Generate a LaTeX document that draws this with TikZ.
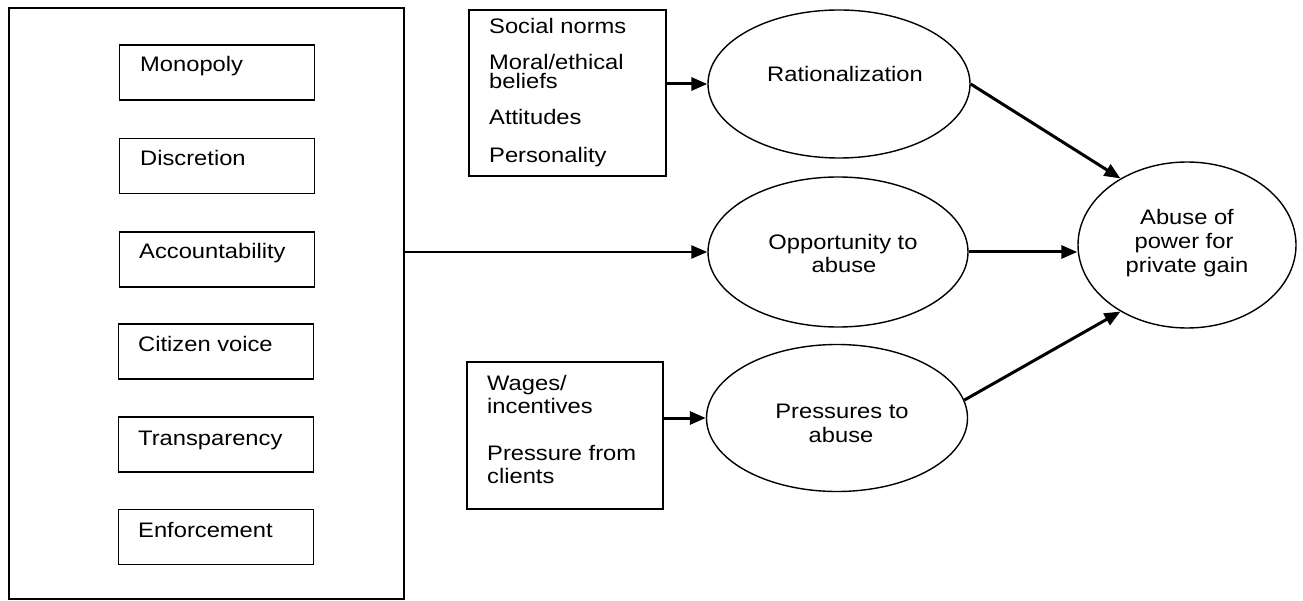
\documentclass[tikz,border=0pt]{standalone}
\usepackage{fontspec}
\setmainfont{Liberation Sans}[FakeStretch=1.13]
\usetikzlibrary{arrows.meta,shapes.geometric}
\begin{document}
\begin{tikzpicture}[x=1pt,y=-1pt,
  outerbox/.style={draw, line width=1.6pt, inner sep=0pt},
  itembox/.style={draw, line width=1.5pt, inner sep=0pt, minimum width=195pt, minimum height=55pt},
  oval/.style={draw, ellipse, line width=1.4pt, inner sep=0pt},
  lbl/.style={inner sep=0pt, anchor=base west, font=\fontsize{21pt}{24pt}\selectfont},
  clbl/.style={inner sep=0pt, anchor=base, font=\fontsize{21pt}{24pt}\selectfont},
  arr/.style={line width=3pt, -{Triangle[length=16pt,width=13pt]}},
  thinarr/.style={line width=2.4pt, -{Triangle[length=16pt,width=13pt]}}]
\useasboundingbox (0,0) rectangle (1303,601);
\fill[white] (0,0) rectangle (1303,601);

% left big box with items
\node[outerbox, minimum width=395pt, minimum height=591pt] (big) at (206.5,303.5) {};
\node[itembox] (bmono) at (217,72.5) {};
\node[itembox] (bdisc) at (217,166) {};
\node[itembox] (bacc) at (217,259.5) {};
\node[itembox] (bcit) at (216,351.5) {};
\node[itembox] (btra) at (216,444.5) {};
\node[itembox] (benf) at (216,537) {};
\node[lbl] (tmono) at (140,72) {Monopoly};
\node[lbl] (tdisc) at (140,166) {Discretion};
\node[lbl] (tacc) at (139,259) {Accountability};
\node[lbl] (tcit) at (138,352) {Citizen voice};
\node[lbl] (ttra) at (138,445) {Transparency};
\node[lbl] (tenf) at (138,537) {Enforcement};

% social norms box
\node[outerbox, line width=1.5pt, minimum width=197pt, minimum height=166pt] (social) at (567.5,93) {};
\node[lbl] (ts1) at (489,34) {Social norms};
\node[lbl, anchor=north west, align=left, font=\fontsize{21pt}{19.5pt}\selectfont] (ts2) at (489,54) {Moral/ethical\\beliefs};
\node[lbl] (ts4) at (489,125) {Attitudes};
\node[lbl] (ts5) at (489,163) {Personality};

% wages box
\node[outerbox, line width=1.5pt, minimum width=196pt, minimum height=147pt] (wages) at (565,435.5) {};
\node[lbl] (tw1) at (487,390) {Wages/};
\node[lbl] (tw2) at (487,413) {incentives};
\node[lbl] (tw3) at (487,460) {Pressure from};
\node[lbl] (tw4) at (487,483) {clients};

% ellipses
\node[oval, minimum width=262pt, minimum height=148pt] (rat) at (839,84) {};
\node[oval, minimum width=260pt, minimum height=150pt] (opp) at (838,252) {};
\node[oval, minimum width=261pt, minimum height=147pt] (press) at (837,418) {};
\node[oval, minimum width=218pt, minimum height=166pt] (abuse) at (1187,245) {};

\node[clbl] (trat) at (845,82) {Rationalization};
\node[clbl] (topp1) at (843,250) {Opportunity to};
\node[clbl] (topp2) at (844,273) {abuse};
\node[clbl] (tpre1) at (842,418) {Pressures to};
\node[clbl] (tpre2) at (841,442) {abuse};
\node[clbl] (tab1) at (1187,225) {Abuse of};
\node[clbl] (tab2) at (1184,249) {power for};
\node[clbl] (tab3) at (1187,273) {private gain};

% connectors
\draw[arr] (social.east |- rat.west) -- (rat.west);
\draw[thinarr] (big.east |- opp.west) -- (opp.west);
\draw[arr] (wages.east |- press.west) -- (press.west);
\draw[arr] (rat.east) -- (abuse.135);
\draw[arr] (opp.east) -- (abuse.west |- opp.east);
\draw[arr] (press.8) -- (abuse.225);
\end{tikzpicture}
\end{document}
